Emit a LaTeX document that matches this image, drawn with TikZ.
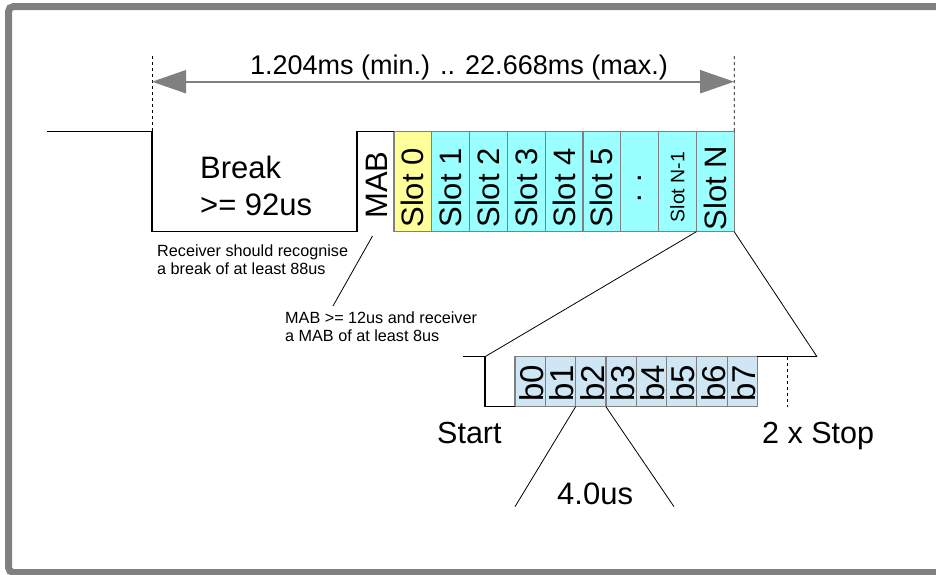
\documentclass[tikz,border=0pt]{standalone}
\usepackage{fontspec}
\setmainfont{Liberation Sans}
\usetikzlibrary{arrows.meta}

\newlength{\du}
\setlength{\du}{1pt}

\definecolor{rimgray}{rgb}{0.500000, 0.500000, 0.500000}
\definecolor{slotyellow}{rgb}{1.000000, 1.000000, 0.600000}
\definecolor{slotcyan}{rgb}{0.600000, 1.000000, 1.000000}
\definecolor{bitblue}{rgb}{0.811765, 0.905882, 0.960784}

\tikzset{
  wave/.style={draw=black, line width=1.2\du},
  guide/.style={draw=black, line width=0.9\du, dash pattern=on 3\du off 3\du},
  leader/.style={draw=black, line width=0.8\du},
  slotcell/.style={draw=rimgray, line width=1.2\du, minimum width=37.8\du, minimum height=100\du, inner sep=0pt, outer sep=0pt},
  bitcell/.style={draw=rimgray, line width=1.2\du, fill=bitblue, minimum width=30.3\du, minimum height=50\du, inner sep=0pt, outer sep=0pt},
  upright/.style={rotate=90},
  bigtext/.style={inner sep=0pt, font=\fontsize{31}{37}\selectfont},
  bittext/.style={inner sep=0pt, font=\fontsize{33}{38}\selectfont},
  midtext/.style={inner sep=0pt, font=\fontsize{27}{32}\selectfont},
  smalltext/.style={inner sep=0pt, font=\fontsize{16.2}{18}\selectfont},
  spanarrow/.style={draw=rimgray, line width=2\du, {Triangle[length=34pt,width=23pt]}-{Triangle[length=34pt,width=23pt]}}
}

\begin{document}
\begin{tikzpicture}
\pgftransformxscale{1.000000}
\pgftransformyscale{-1.000000}
\useasboundingbox (0\du,0\du) rectangle (936\du,574\du);
% frame
\draw[rimgray, line width=7\du, rounded corners=5\du] (8.5\du,6.5\du) rectangle (960\du,572.5\du);

% slots
\node[slotcell, fill=slotyellow] (slot0) at (412.9\du,181.7\du) {};
\foreach \i in {1,...,8}
  \node[slotcell, fill=slotcyan] (slot\i) at ({(394+37.8*(\i+0.5))*\du},181.7\du) {};
\node[bigtext, upright] (slotlbl0) at (412.9\du,188\du) {Slot 0};
\foreach \i/\lbl in {1/Slot 1,2/Slot 2,3/Slot 3,4/Slot 4,5/Slot 5,6/{. .},8/Slot N}
  \node[bigtext, upright] (slotlbl\i) at ({(394+37.8*(\i+0.5))*\du},188\du) {\lbl};
\node[upright, inner sep=0pt, font=\fontsize{19.5}{22}\selectfont] (slotlbl7) at (677.5\du,187\du) {Slot N-1};

% break and mab
\coordinate (idle) at (47\du,131.7\du);
\coordinate (brkup) at (152\du,131.7\du);
\coordinate (brklow) at (152\du,231.7\du);
\coordinate (mablow) at (357\du,231.7\du);
\coordinate (mabup) at (357\du,131.7\du);
\draw[wave] (idle) -- (brkup) -- (brklow) -- (mablow) -- (mabup) -- (slot0.north west);
\node[bigtext, upright] (mab) at (377\du,185\du) {MAB};
% setfont left to latex
\node[bigtext, anchor=base west] (brktxt) at (200\du,178\du) {Break};
\node[bigtext, anchor=base west] (brkmin) at (200\du,215\du) {>= 92us};

% total length
\coordinate (spanL) at (152\du,81.7\du);
\coordinate (spanR) at (734.2\du,81.7\du);
\draw[guide] (152\du,56\du) -- (brkup);
\draw[guide] (734.2\du,56\du) -- (slot8.north east);
\draw[spanarrow] (spanL) -- (spanR);
\node[midtext, anchor=base] (spantxt) at (459\du,74\du) {1.204ms (min.) .. 22.668ms (max.)};

% notes
\node[smalltext, anchor=base west] (brknote1) at (157\du,256.7\du) {Receiver should recognise};
\node[smalltext, anchor=base west] (brknote2) at (157\du,274\du) {a break of at least 88us};
\node[smalltext, anchor=base west] (mabnote1) at (285\du,323.3\du) {MAB >= 12us and receiver};
\node[smalltext, anchor=base west] (mabnote2) at (285\du,341\du) {a MAB of at least 8us};
\coordinate (mabfoot) at (372.5\du,236\du);
\coordinate (mabend) at (333\du,306\du);
\draw[leader] (mabfoot) -- (mabend);

% one slot, bit by bit
\foreach \i in {0,...,7} {
  \node[bitcell] (bit\i) at ({(515+30.3*(\i+0.5))*\du},381.7\du) {};
  \node[bittext, upright] (bitlbl\i) at ({(516.5+30.3*(\i+0.5))*\du},383\du) {b\i};
}
\coordinate (frameidle) at (463\du,356.7\du);
\coordinate (startup) at (485\du,356.7\du);
\coordinate (startlow) at (485\du,406.7\du);
\coordinate (stopend) at (817\du,356.7\du);
\draw[wave] (frameidle) -- (startup) -- (startlow) -- (bit0.south west);
\draw[wave] (bit7.north east) -- (stopend);
\draw[guide] (787.7\du,356.7\du) -- (787.7\du,406.7\du);
\draw[leader] (slot8.south west) -- (startup);
\draw[leader] (slot8.south east) -- (stopend);
\node[bigtext, anchor=base west, font=\fontsize{30.5}{35}\selectfont] (starttxt) at (437\du,443\du) {Start};
\node[bigtext, anchor=base west, font=\fontsize{30.5}{35}\selectfont] (stoptxt) at (762\du,443\du) {2 x Stop};

% bit time
\coordinate (bitL) at (515\du,506.7\du);
\coordinate (bitR) at (674\du,506.7\du);
\draw[leader] (bit1.south east) -- (bitL);
\draw[leader] (bit2.south east) -- (bitR);
\node[bigtext, anchor=base west] (bittime) at (557\du,504\du) {4.0us};
\end{tikzpicture}
\end{document}
